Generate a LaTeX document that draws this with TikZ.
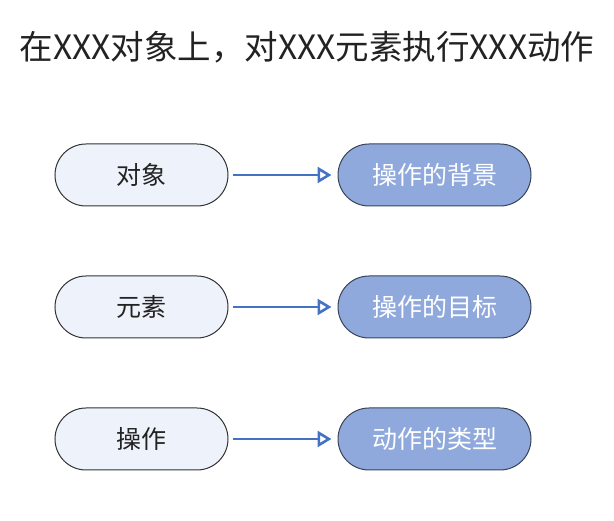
\documentclass[tikz,border=0pt]{standalone}
\usepackage{fontspec}
\setmainfont{Noto Sans CJK SC}
\usetikzlibrary{arrows.meta,positioning}
\definecolor{leftfill}{HTML}{EEF3FB}
\definecolor{rightfill}{HTML}{8FA9DC}
\definecolor{linkblue}{HTML}{4472C4}
\definecolor{bodytext}{HTML}{222222}
\begin{document}
\begin{tikzpicture}[x=1pt,y=-1pt,
    term/.style={
        rectangle,
        rounded corners=31pt,
        minimum width=173pt,
        minimum height=62pt,
        draw=black!80,
        line width=1pt,
        font=\fontsize{25}{29}\selectfont,
        text=bodytext
    },
    meaning/.style={
        term,
        minimum width=193pt,
        fill=rightfill,
        draw=black!60!rightfill,
        text=white
    },
    arrow/.style={
        -{Triangle[open, length=14pt, width=16pt]},
        line width=2.6pt,
        color=linkblue
    }
]
    \useasboundingbox (0,0) rectangle (614,521);

    % Title
    \node[font=\fontsize{33.5}{38}\selectfont, text=bodytext] (title) at (307,47) {在XXX对象上，对XXX元素执行XXX动作};

    % Left column
    \node[term, fill=leftfill] (object) at (141.5,175) {对象};
    \node[term, fill=leftfill] (element) at (141.5,307) {元素};
    \node[term, fill=leftfill] (action) at (141.5,439) {操作};

    % Right column
    \node[meaning] (background) at (434.5,175) {操作的背景};
    \node[meaning] (target) at (434.5,307) {操作的目标};
    \node[meaning] (kind) at (434.5,439) {动作的类型};

    % Arrows
    \draw[arrow] ([xshift=4pt]object.east) -- ([xshift=-6pt]background.west);
    \draw[arrow] ([xshift=4pt]element.east) -- ([xshift=-6pt]target.west);
    \draw[arrow] ([xshift=4pt]action.east) -- ([xshift=-6pt]kind.west);
\end{tikzpicture}
\end{document}
